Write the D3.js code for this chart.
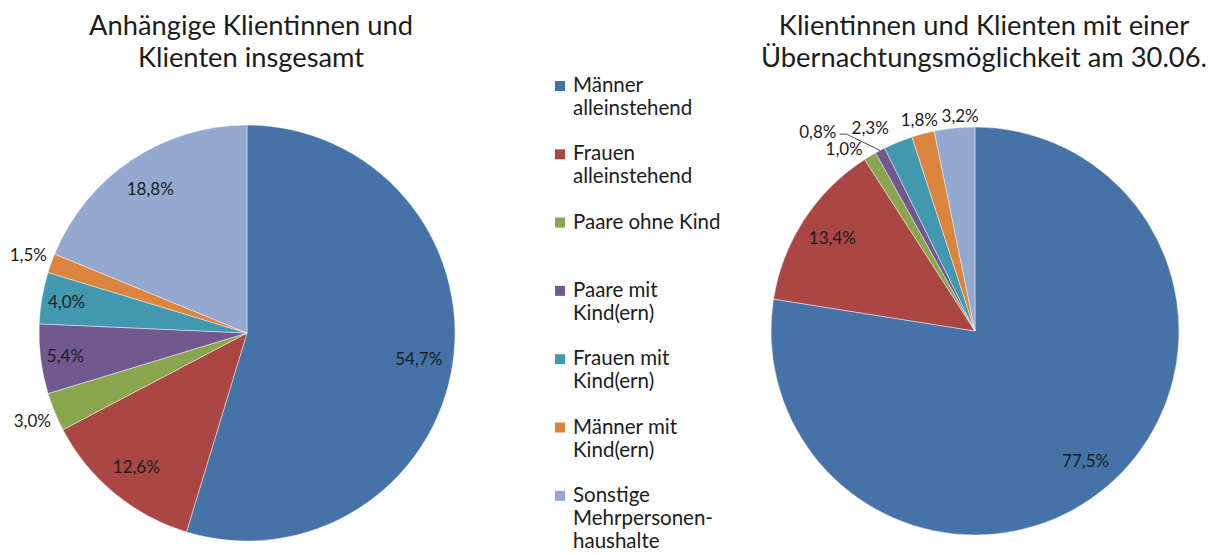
<!DOCTYPE html>
<html><head><meta charset="utf-8">
<script src="https://cdn.jsdelivr.net/npm/d3@7"></script>
<style>
body{margin:0;background:#fff}
svg{display:block}
text{font-family:Lato,"Open Sans",sans-serif;fill:#1c1c1c}
</style>
</head><body>
<svg id="chart" width="1220" height="555"></svg>
<script>
// ---- data ----
const categories = ["Männer alleinstehend", "Frauen alleinstehend", "Paare ohne Kind",
  "Paare mit Kind(ern)", "Frauen mit Kind(ern)", "Männer mit Kind(ern)", "Sonstige Mehrpersonenhaushalte"];
const legendLines = [["Männer","alleinstehend"],["Frauen","alleinstehend"],["Paare ohne Kind"],
  ["Paare mit","Kind(ern)"],["Frauen mit","Kind(ern)"],["Männer mit","Kind(ern)"],
  ["Sonstige","Mehrpersonen-","haushalte"]];
const valuesInsgesamt = [54.7, 12.6, 3.0, 5.4, 4.0, 1.5, 18.8];
const valuesUebernachtung = [77.5, 13.4, 1.0, 0.8, 2.3, 1.8, 3.2];
const titleInsgesamt = ["Anhängige Klientinnen und", "Klienten insgesamt"];
const titleUebernachtung = ["Klientinnen und Klienten mit einer", "Übernachtungsmöglichkeit am 30.06."];
const colors = ["#4572A7","#AA4643","#89A54E","#71588F","#4198AF","#DB843D","#93A9CF"];

// ---- layout ----
const svg = d3.select("#chart");
const fmt = v => d3.format(".1f")(v).replace(".", ",") + "%";
const color = d3.scaleOrdinal().domain(categories).range(colors);

function drawPie(values, title, cx, cy, r, titleX, nudges) {
  const g = svg.append("g");
  const t = g.append("text").attr("text-anchor","middle").style("font-size","27.3px");
  title.forEach((line,i)=> t.append("tspan").attr("x", titleX).attr("y", 35 + i*32).text(line));

  const pie = d3.pie().sort(null).value(d=>d.v);
  const arcs = pie(values.map((v,i)=>({v, c:categories[i]})));
  const arc = d3.arc().innerRadius(0).outerRadius(r);
  const pg = g.append("g").attr("transform", `translate(${cx},${cy})`);
  pg.selectAll("path").data(arcs).join("path")
    .attr("d", arc).attr("fill", d=>color(d.data.c))
    .attr("stroke","#ffffff").attr("stroke-opacity",0.55).attr("stroke-width",0.8);

  arcs.forEach((d,i)=>{
    const nd = (nudges && nudges[i]) || {};
    const mid = (d.startAngle + d.endAngle)/2;
    const lab = pg.append("text").attr("text-anchor","middle").attr("dy","0.36em")
      .style("font-size","17px").text(fmt(d.data.v));
    const w = lab.node().getComputedTextLength();
    let a = mid, dist;
    if (d.data.v >= 3.5) {
      dist = r * (d.data.v < 8 ? 0.88 : 0.835);
    } else {
      a = mid + (nd.da||0)*Math.PI/180;
      const ext = Math.abs(Math.sin(a))*w/2 + Math.abs(Math.cos(a))*5;
      dist = r + 5 + ext + (nd.dr||0);
    }
    const x = dist*Math.sin(a), y = -dist*Math.cos(a);
    lab.attr("x", x).attr("y", y);
    if (nd.leader) {
      const sx = x + w/2 + 3, sy = y + 2;
      const ex = r*Math.sin(mid), ey = -r*Math.cos(mid);
      pg.append("path").attr("d", `M${sx},${sy}H${sx+7}L${ex},${ey}`)
        .attr("fill","none").attr("stroke","#333").attr("stroke-width",0.9);
    }
  });
}

drawPie(valuesInsgesamt, titleInsgesamt, 247, 333, 208, 251, null);
drawPie(valuesUebernachtung, titleUebernachtung, 975, 331, 204, 984,
  {2:{da:-4.8}, 3:{da:-10.6, dr:29, leader:true}, 4:{da:-5.1, dr:7}, 6:{da:1.8}});

// legend
const lg = svg.append("g").attr("transform","translate(555,0)");
categories.forEach((c,i)=>{
  const base = 92 + i*68.3;
  lg.append("rect").attr("x",0).attr("y",base-11).attr("width",10).attr("height",10).attr("fill",color(c));
  const t = lg.append("text").style("font-size","20.5px");
  legendLines[i].forEach((l,j)=> t.append("tspan").attr("x",18).attr("y",base + j*23).text(l));
});
</script>
</body></html>
